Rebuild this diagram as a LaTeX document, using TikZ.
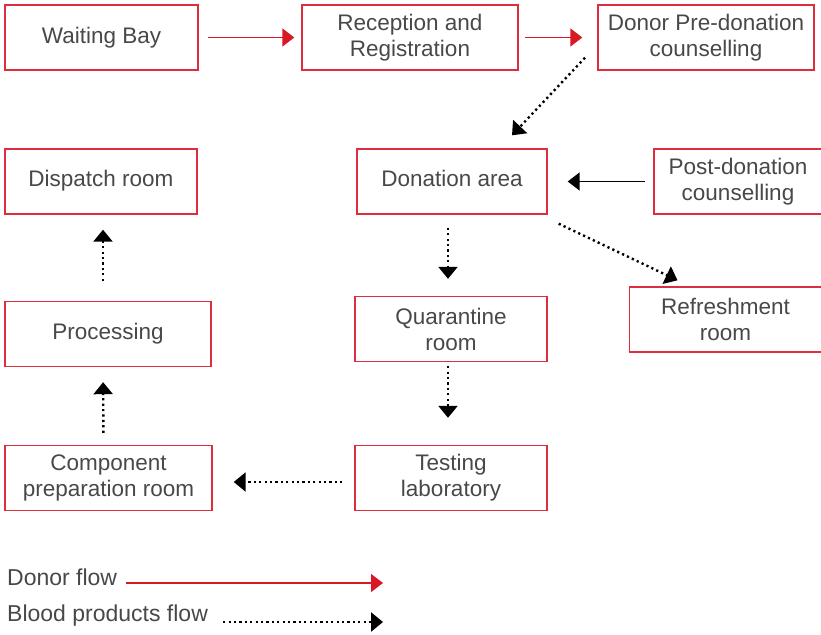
\documentclass[tikz,border=0pt]{standalone}
\usepackage{fontspec}
\setmainfont{Liberation Sans}
\usetikzlibrary{arrows.meta}
\definecolor{boxred}{RGB}{222,45,60}
\definecolor{flowred}{RGB}{215,25,38}
\definecolor{txt}{RGB}{72,72,72}
\tikzset{
  room/.style={draw=boxred, line width=1.4pt, minimum height=65pt, inner sep=2pt,
    align=center, text=txt, font=\fontsize{22.5}{26}\selectfont},
  donorarrow/.style={draw=flowred, line width=1.8pt, -{Triangle[length=12pt,width=18pt]}, flowred},
  bloodarrow/.style={draw=black, line width=2.4pt, dash pattern=on 2.2pt off 3.2pt,
    -{Triangle[length=12pt,width=19pt]}},
  solidarrow/.style={draw=black, line width=1.6pt, -{Triangle[length=12pt,width=18pt]}},
  legendtxt/.style={text=txt, font=\fontsize{23}{26}\selectfont, inner sep=0pt, anchor=west}
}
\begin{document}
\begin{tikzpicture}[x=1pt,y=-1pt]
\useasboundingbox (0,0) rectangle (821,634);
% boxes
\node[room, minimum width=193pt] (wait) at (101.5,37.5) {\raisebox{5pt}{Waiting Bay}};
\node[room, minimum width=216pt] (recep) at (410,37.5) {Reception and\\Registration};
\node[room, minimum width=216pt] (pre) at (706,37.5) {Donor Pre-donation\\counselling};
\node[room, minimum width=192pt] (disp) at (101,181.5) {\raisebox{6pt}{Dispatch room}};
\node[room, minimum width=190pt] (don) at (452,181.5) {\raisebox{6pt}{Donation area}};
\node[room, minimum width=168pt] (post) at (738,181.5) {Post-donation\\counselling};
\node[room, minimum width=206pt] (proc) at (108,334) {\raisebox{6pt}{Processing}};
\node[room, minimum width=192pt] (quar) at (451,329) {Quarantine\\room};
\node[room, minimum width=192pt] (refr) at (725.5,319.5) {Refreshment\\room};
\node[room, minimum width=207pt] (comp) at (108.5,478) {Component\\preparation room};
\node[room, minimum width=192pt] (test) at (451,478) {Testing\\laboratory};
% donor flow
\draw[donorarrow, shorten <=9pt, shorten >=7pt] (wait.east) -- (recep.west);
\draw[donorarrow, shorten <=6pt, shorten >=15pt] (recep.east) -- (pre.west);
% blood products flow
\draw[bloodarrow] ([xshift=-121pt,yshift=13pt]pre.south) -- ([xshift=60pt,yshift=13pt]don.north);
\draw[solidarrow, shorten <=8pt, shorten >=20pt] (post.west) -- (don.east);
\draw[bloodarrow] ([xshift=11pt,yshift=-9pt]don.south east) -- ([xshift=-48pt,yshift=6pt]refr.north);
\draw[bloodarrow, shorten <=13pt, shorten >=17pt] ([xshift=-4pt]don.south) -- ([xshift=-3pt]quar.north);
\draw[bloodarrow, shorten <=4pt, shorten >=27pt] ([xshift=-3pt]quar.south) -- ([xshift=-3pt]test.north);
\draw[bloodarrow, shorten <=12pt, shorten >=21pt] ([yshift=-4pt]test.west) -- ([yshift=-4pt]comp.east);
\draw[bloodarrow, shorten <=12pt, shorten >=15pt] ([xshift=-5pt]comp.north) -- ([xshift=-5pt]proc.south);
\draw[bloodarrow, shorten <=20pt, shorten >=15pt] ([xshift=-5pt]proc.north) -- ([xshift=2pt]disp.south);
% legend
\node[legendtxt] (ldon) at (7,577) {Donor flow};
\node[legendtxt] (lblood) at (7,616) {Blood products flow};
\coordinate (ldonend) at (383,583);
\coordinate (lbloodend) at (383,622);
\draw[donorarrow, line width=1.4pt] ([xshift=9pt]ldon.east |- ldonend) -- (ldonend);
\draw[bloodarrow] ([xshift=15pt]lblood.east |- lbloodend) -- (lbloodend);
\end{tikzpicture}
\end{document}
